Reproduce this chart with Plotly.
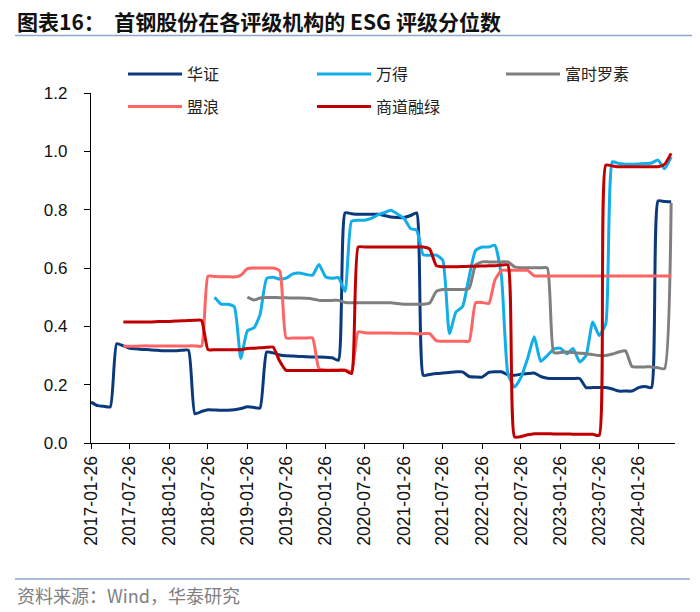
import pandas as pd
import plotly.graph_objects as go

# monthly observation dates (26th of each month), 2017-01 .. 2024-06
dates = pd.date_range(start="2017-01-26", periods=90, freq=pd.DateOffset(months=1))

series_names = ["华证", "万得", "富时罗素", "盟浪", "商道融绿"]

huazheng = [0.14, 0.128, 0.126, 0.124, 0.34, 0.333, 0.325, 0.323, 0.321, 0.32,
            0.318, 0.316, 0.316, 0.316, 0.318, 0.318, 0.10, 0.108, 0.114, 0.113,
            0.112, 0.112, 0.114, 0.118, 0.124, 0.122, 0.12, 0.312, 0.309, 0.302,
            0.299, 0.298, 0.297, 0.296, 0.295, 0.295, 0.294, 0.292, 0.284, 0.789,
            0.786, 0.784, 0.784, 0.784, 0.784, 0.78, 0.775, 0.773, 0.773, 0.78,
            0.789, 0.232, 0.235, 0.238, 0.24, 0.242, 0.244, 0.244, 0.228, 0.226,
            0.226, 0.242, 0.244, 0.244, 0.234, 0.232, 0.236, 0.238, 0.24, 0.228,
            0.222, 0.221, 0.221, 0.221, 0.221, 0.221, 0.19, 0.19, 0.19, 0.19,
            0.185, 0.178, 0.178, 0.178, 0.19, 0.194, 0.19, 0.83, 0.828, 0.827]

wande = [None] * 19 + [
            0.50, 0.476, 0.476, 0.467, 0.29, 0.385, 0.395, 0.44, 0.564, 0.568,
            0.562, 0.565, 0.58, 0.583, 0.578, 0.575, 0.612, 0.57, 0.565, 0.567,
            0.52, 0.76, 0.764, 0.764, 0.77, 0.782, 0.79, 0.798, 0.785, 0.77,
            0.735, 0.73, 0.645, 0.644, 0.644, 0.627, 0.375, 0.45, 0.467, 0.57,
            0.66, 0.672, 0.672, 0.678, 0.57, 0.238, 0.192, 0.225, 0.29, 0.364,
            0.28, 0.30, 0.322, 0.325, 0.306, 0.324, 0.278, 0.30, 0.415, 0.369,
            0.409, 0.964, 0.958, 0.956, 0.956, 0.957, 0.958, 0.96, 0.97, 0.94,
            0.981]

ftse = [None] * 24 + [
            0.50, 0.49, 0.497, 0.499, 0.499, 0.498, 0.498, 0.497, 0.497, 0.496,
            0.494, 0.489, 0.489, 0.489, 0.489, 0.482, 0.481, 0.481, 0.481, 0.481,
            0.481, 0.481, 0.481, 0.478, 0.476, 0.476, 0.476, 0.476, 0.48, 0.52,
            0.526, 0.526, 0.526, 0.526, 0.53, 0.61, 0.621, 0.621, 0.621, 0.621,
            0.621, 0.604, 0.601, 0.601, 0.601, 0.601, 0.60, 0.31, 0.31, 0.312,
            0.31, 0.308, 0.306, 0.303, 0.30, 0.30, 0.305, 0.312, 0.316, 0.262,
            0.261, 0.261, 0.261, 0.258, 0.255, 0.823]

menglang = [None] * 5 + [
            0.332, 0.332, 0.332, 0.333, 0.333, 0.333, 0.333, 0.333, 0.333, 0.333,
            0.333, 0.333, 0.332, 0.572, 0.571, 0.570, 0.570, 0.569, 0.575, 0.598,
            0.60, 0.60, 0.60, 0.60, 0.59, 0.36, 0.36, 0.36, 0.36, 0.36,
            0.255, 0.25, 0.25, 0.25, 0.25, 0.245, 0.381, 0.378, 0.377, 0.377,
            0.377, 0.377, 0.376, 0.376, 0.376, 0.375, 0.375, 0.375, 0.35, 0.349,
            0.349, 0.349, 0.349, 0.349, 0.48, 0.482, 0.478, 0.558, 0.592, 0.592,
            0.592, 0.592, 0.592, 0.573, 0.573, 0.573, 0.573, 0.573, 0.573, 0.573,
            0.573, 0.573, 0.573, 0.573, 0.573, 0.573, 0.573, 0.573, 0.573, 0.573,
            0.573, 0.573, 0.573, 0.573, 0.573]

shangdao = [None] * 5 + [
            0.415, 0.415, 0.415, 0.415, 0.415, 0.416, 0.417, 0.417, 0.418, 0.419,
            0.42, 0.421, 0.42, 0.32, 0.32, 0.32, 0.32, 0.32, 0.32, 0.324,
            0.325, 0.327, 0.328, 0.329, 0.28, 0.249, 0.249, 0.249, 0.249, 0.249,
            0.249, 0.249, 0.249, 0.249, 0.249, 0.238, 0.672, 0.672, 0.672, 0.672,
            0.672, 0.672, 0.672, 0.672, 0.672, 0.672, 0.672, 0.665, 0.608, 0.604,
            0.604, 0.604, 0.605, 0.606, 0.606, 0.607, 0.608, 0.608, 0.61, 0.61,
            0.021, 0.022, 0.028, 0.032, 0.032, 0.032, 0.031, 0.031, 0.031, 0.030,
            0.030, 0.030, 0.030, 0.026, 0.953, 0.95, 0.947, 0.947, 0.947, 0.947,
            0.947, 0.947, 0.947, 0.955, 0.993]

colors = ["#0B3A7C", "#12AEEA", "#7F7F7F", "#FF6464", "#C00000"]
values = [huazheng, wande, ftse, menglang, shangdao]
legend_ids = ["legend", "legend2", "legend3", "legend4", "legend5"]

fig = go.Figure()
for name, vals, col, lg in zip(series_names, values, colors, legend_ids):
    fig.add_trace(go.Scatter(
        x=dates, y=vals, name=name, mode="lines",
        line=dict(color=col, width=3, shape="spline", smoothing=0.5),
        connectgaps=False, legend=lg, showlegend=True,
    ))

# the page body adds an 8px offset; the figure is sized to compensate
OFF = 8
W, H = 700 - OFF, 612 - OFF
L, R, T, B = 91 - OFF, 25, 93 - OFF, 169
pw, ph = W - L - R, H - T - B

def px_x(x):  # screen px -> paper
    return (x - OFF - L) / pw

def px_y(y):
    return (H - B - (y - OFF)) / ph

cjk = "Noto Sans CJK SC"
lat = "Liberation Sans"

legend_common = dict(
    orientation="h", xanchor="left", yanchor="middle",
    itemwidth=54, visible=True,
    font=dict(family=cjk, size=16, color="#222222"),
    bgcolor="rgba(0,0,0,0)",
)
legend_pos = [(123, 74), (312, 74), (501, 74), (123, 106.7), (312, 106.7)]
legends = {}
for lg, (lx, ly) in zip(legend_ids, legend_pos):
    legends[lg] = dict(x=px_x(lx), y=px_y(ly), **legend_common)

fig.update_layout(
    width=W, height=H,
    showlegend=True,
    margin=dict(l=L, r=R, t=T, b=B),
    paper_bgcolor="white", plot_bgcolor="white",
    title=dict(
        text="<b>图表16：  首钢股份在各评级机构的 ESG 评级分位数</b>",
        x=(17 - OFF) / W, xanchor="left", y=1 - (23 - OFF) / H, yanchor="middle",
        font=dict(family=cjk, size=21, color="#111111"),
    ),
    xaxis=dict(
        type="date",
        range=["2017-01-26", "2024-07-14"],
        tick0="2017-01-26", dtick="M6", tickformat="%Y-%m-%d",
        tickangle=-90, ticks="outside", ticklen=5, tickcolor="black",
        showline=True, linecolor="black", linewidth=1.2,
        showgrid=False, zeroline=False,
        tickfont=dict(family=lat, size=17.5, color="#111111"),
    ),
    yaxis=dict(
        range=[0, 1.2], dtick=0.2, tick0=0, tickformat=".1f",
        ticks="outside", ticklen=6, tickcolor="black",
        ticklabelstandoff=13,
        showline=True, linecolor="black", linewidth=1.2,
        showgrid=False, zeroline=False,
        tickfont=dict(family=lat, size=17, color="#111111"),
    ),
    shapes=[
        dict(type="line", xref="paper", yref="paper",
             x0=px_x(15), x1=px_x(700), y0=px_y(35.5), y1=px_y(35.5),
             line=dict(color="#8FA8C8", width=1.5)),
        dict(type="line", xref="paper", yref="paper",
             x0=px_x(15), x1=px_x(690), y0=px_y(579), y1=px_y(579),
             line=dict(color="#8FA8C8", width=1.5)),
    ],
    annotations=[
        dict(text="资料来源：Wind，华泰研究", xref="paper", yref="paper",
             x=px_x(15), y=px_y(595), xanchor="left", yanchor="middle",
             showarrow=False, font=dict(family=cjk, size=18, color="#808080")),
    ],
    **legends,
)

fig.write_html("out.html")
